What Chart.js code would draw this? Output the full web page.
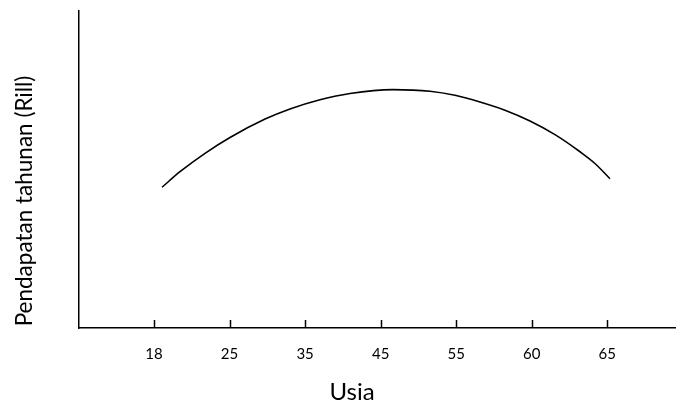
<!DOCTYPE html>
<html>
<head>
<meta charset="utf-8">
<script src="https://cdn.jsdelivr.net/npm/chart.js@4"></script>
<style>
  html, body { margin: 0; padding: 0; background: #ffffff; }
  #wrap { width: 676px; height: 405px; }
</style>
</head>
<body>
<div id="wrap"><canvas id="grafik" width="676" height="405"></canvas></div>
<script>
// Label sumbu X (usia), posisi tick 0..6
const usiaLabels = ['18', '25', '35', '45', '55', '60', '65'];
const usiaPosisi = [0, 1, 2, 3, 4, 5, 6];

// Kurva pendapatan (posisi sumbu X, nilai relatif)
const kurvaX = [0.106, 0.344, 0.675, 1.006, 1.470, 1.800, 2.197, 2.594, 3.164, 3.654, 3.985, 4.315, 4.646, 4.977, 5.308, 5.639, 5.837, 6.036];
const kurvaY = [44.4, 49.3, 55.1, 60.1, 65.9, 69.1, 72.0, 74.0, 75.2, 74.7, 73.4, 71.3, 68.7, 65.3, 61.0, 55.6, 51.9, 47.1];

const judulX = 'Usia';
const judulY = 'Pendapatan tahunan (Rill)';

const titikData = kurvaX.map((x, i) => ({ x: x, y: kurvaY[i] }));

// Plugin untuk tanda tick ke atas dan judul sumbu
const plugSumbu = {
    id: 'plugSumbu',
    afterDraw(chart) {
        const ctx = chart.ctx;
        const sx = chart.scales.x;
        const area = chart.chartArea;
        ctx.save();
        ctx.strokeStyle = '#000';
        ctx.lineWidth = 1.5;
        usiaPosisi.forEach((v) => {
            const px = Math.round(sx.getPixelForValue(v)) + 0.5;
            ctx.beginPath();
            ctx.moveTo(px, area.bottom);
            ctx.lineTo(px, area.bottom - 8);
            ctx.stroke();
        });

        ctx.fillStyle = '#000';
        ctx.font = '24px Lato';
        ctx.textAlign = 'center';
        ctx.textBaseline = 'alphabetic';
        ctx.fillText(judulX, 352, 400);

        ctx.translate(25, 201);
        ctx.rotate(-Math.PI / 2);
        ctx.font = '22.5px Lato';
        ctx.textBaseline = 'middle';
        ctx.fillText(judulY, 0, 0);
        ctx.restore();
    }
};

new Chart(document.getElementById('grafik').getContext('2d'), {
    type: 'line',
    data: {
        datasets: [
            {
                data: titikData,
                borderColor: '#000000',
                borderWidth: 1.6,
                pointRadius: 0,
                cubicInterpolationMode: 'monotone',
                fill: false
            }
        ]
    },
    options: {
        responsive: false,
        animation: false,
        layout: { padding: { top: 11, right: 0, left: 0, bottom: 0 } },
        plugins: {
            legend: { display: false },
            tooltip: { enabled: false }
        },
        scales: {
            x: {
                type: 'linear',
                min: -0.993,
                max: 6.91,
                afterBuildTicks: (scale) => {
                    scale.ticks = usiaPosisi.map((v) => ({ value: v }));
                },
                afterFit: (scale) => { scale.height = 77; },
                ticks: {
                    callback: (v) => usiaLabels[v],
                    color: '#000',
                    font: { family: 'Lato', size: 15 },
                    padding: 17,
                    maxRotation: 0,
                    autoSkip: false
                },
                grid: { display: true, drawOnChartArea: false, drawTicks: false },
                border: { display: true, color: '#000', width: 1.5 }
            },
            y: {
                min: 0,
                max: 100,
                afterFit: (scale) => { scale.width = 79; },
                ticks: { display: false },
                grid: { display: true, drawOnChartArea: false, drawTicks: false },
                border: { display: true, color: '#000', width: 1.5 }
            }
        }
    },
    plugins: [plugSumbu]
});
</script>
</body>
</html>
